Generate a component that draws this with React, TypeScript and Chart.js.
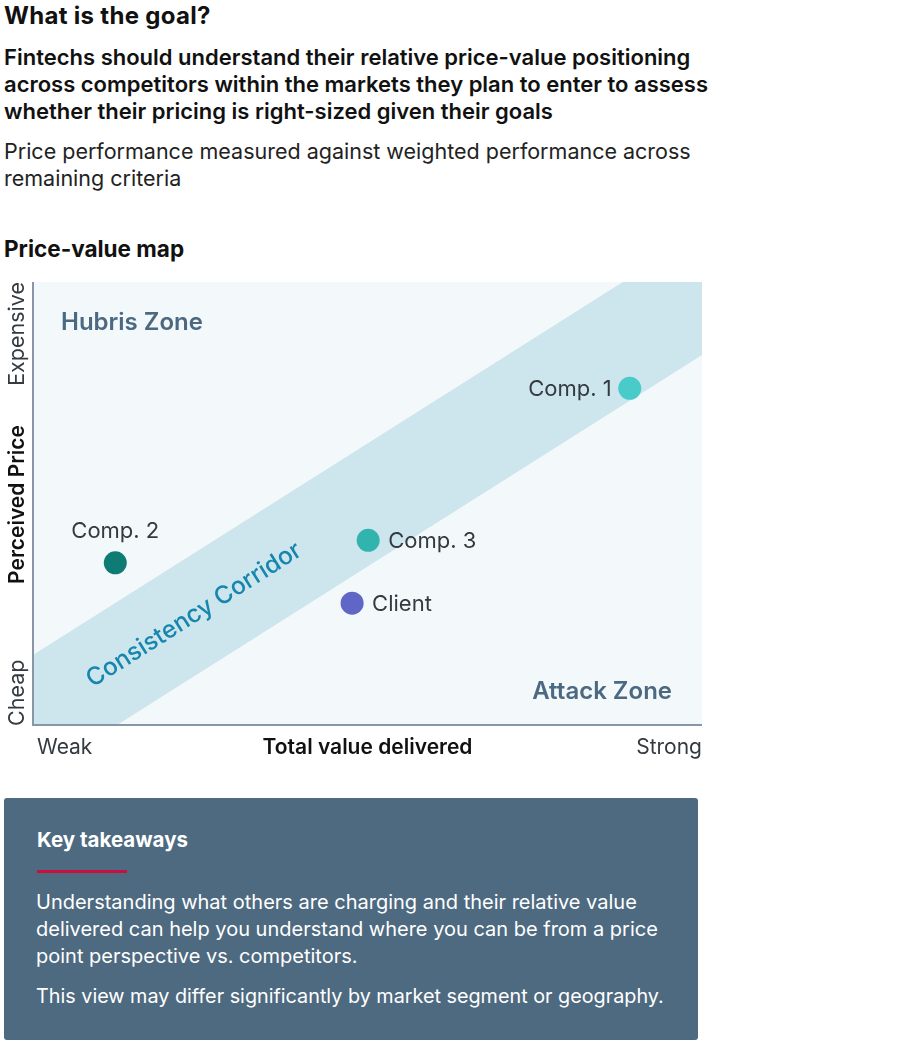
import React, { useEffect, useRef } from "react";
import { Chart, registerables } from "chart.js";

Chart.register(...registerables);

// ---- Data ----
const pointNames = ["Comp. 1", "Comp. 2", "Comp. 3", "Client"];
const valueDelivered = [8.92, 1.23, 5.01, 4.77];
const perceivedPrice = [7.6, 3.66, 4.17, 2.75];
const pointColors = ["#48cbc9", "#0e7b74", "#30b4ad", "#5f66c6"];
const labelSides = ["left", "above", "right", "right"];

const corridorX = [0, 10];
const corridorUpper = [1.58, 11.13];
const corridorLower = [-1.2, 8.35];

const xTickLabels = ["Weak", "Strong"];
const yTickLabels = ["Cheap", "Expensive"];
const xTitle = "Total value delivered";
const yTitle = "Perceived Price";
const zoneLabels = ["Hubris Zone", "Attack Zone"];
const corridorLabel = "Consistency Corridor";

const FONT = "Inter, 'Noto Sans', sans-serif";

const overlayPlugin = {
  id: "overlay",
  beforeDatasetsDraw(chart: any) {
    const { ctx, chartArea } = chart;
    ctx.save();
    ctx.fillStyle = "#f3f8fb";
    ctx.fillRect(chartArea.left, chartArea.top, chartArea.right - chartArea.left, chartArea.bottom - chartArea.top);
    ctx.restore();
  },
  afterDatasetsDraw(chart: any) {
    const { ctx, chartArea } = chart;
    const xs = chart.scales.x;
    const ys = chart.scales.y;
    ctx.save();
    // axes lines
    ctx.strokeStyle = "#8797a7";
    ctx.lineWidth = 2;
    ctx.beginPath();
    ctx.moveTo(chartArea.left, chartArea.top);
    ctx.lineTo(chartArea.left, chartArea.bottom);
    ctx.lineTo(chartArea.right, chartArea.bottom);
    ctx.stroke();

    // x tick labels & title
    ctx.fillStyle = "#333a40";
    ctx.font = `400 21px ${FONT}`;
    ctx.textBaseline = "alphabetic";
    const xb = chartArea.bottom + 29;
    ctx.textAlign = "left";
    ctx.fillText(xTickLabels[0], xs.getPixelForValue(0) + 4, xb);
    ctx.textAlign = "right";
    ctx.fillText(xTickLabels[1], xs.getPixelForValue(10), xb);
    ctx.fillStyle = "#111";
    ctx.font = `600 21px ${FONT}`;
    ctx.textAlign = "center";
    ctx.fillText(xTitle, (chartArea.left + chartArea.right) / 2, xb);

    // y tick labels & title (rotated)
    const yx = chartArea.left - 15;
    ctx.save();
    ctx.translate(yx, 0);
    ctx.rotate(-Math.PI / 2);
    ctx.fillStyle = "#333a40";
    ctx.font = `400 21.5px ${FONT}`;
    ctx.textBaseline = "middle";
    ctx.textAlign = "left";
    ctx.fillText(yTickLabels[0], -ys.getPixelForValue(0) - 1, 0);
    ctx.textAlign = "right";
    ctx.fillText(yTickLabels[1], -ys.getPixelForValue(10), 0);
    ctx.fillStyle = "#111";
    ctx.font = `600 21px ${FONT}`;
    ctx.textAlign = "center";
    ctx.fillText(yTitle, -((chartArea.top + chartArea.bottom) / 2 + 1), 0);
    ctx.restore();

    // zone labels
    ctx.fillStyle = "#4b6a82";
    ctx.font = `600 24px ${FONT}`;
    ctx.textBaseline = "alphabetic";
    ctx.textAlign = "left";
    ctx.fillText(zoneLabels[0], chartArea.left + 28, chartArea.top + 48);
    ctx.textAlign = "right";
    ctx.fillText(zoneLabels[1], chartArea.right - 30, chartArea.bottom - 26);

    // corridor label
    const midY = (xv: number) => {
      const t = (xv - corridorX[0]) / (corridorX[1] - corridorX[0]);
      const up = corridorUpper[0] + t * (corridorUpper[1] - corridorUpper[0]);
      const lo = corridorLower[0] + t * (corridorLower[1] - corridorLower[0]);
      return (up + lo) / 2;
    };
    const p0x = xs.getPixelForValue(0), p0y = ys.getPixelForValue(midY(0));
    const p1x = xs.getPixelForValue(10), p1y = ys.getPixelForValue(midY(10));
    const ang = Math.atan2(p1y - p0y, p1x - p0x);
    const sx = xs.getPixelForValue(0.83);
    const sy = ys.getPixelForValue(midY(0.83));
    ctx.save();
    ctx.translate(sx, sy);
    ctx.rotate(ang);
    ctx.fillStyle = "#1786ae";
    ctx.font = `500 24.5px ${FONT}`;
    ctx.textAlign = "left";
    ctx.textBaseline = "middle";
    ctx.fillText(corridorLabel, 0, 0);
    ctx.restore();

    // point labels
    ctx.fillStyle = "#333a40";
    ctx.font = `400 22px ${FONT}`;
    pointNames.forEach((name, i) => {
      const px = xs.getPixelForValue(valueDelivered[i]);
      const py = ys.getPixelForValue(perceivedPrice[i]);
      const side = labelSides[i];
      if (side === "left") {
        ctx.textAlign = "right";
        ctx.textBaseline = "middle";
        ctx.fillText(name, px - 18, py + 1);
      } else if (side === "right") {
        ctx.textAlign = "left";
        ctx.textBaseline = "middle";
        ctx.fillText(name, px + 20, py + 1);
      } else {
        ctx.textAlign = "center";
        ctx.textBaseline = "alphabetic";
        ctx.fillText(name, px, py - 25);
      }
    });
    ctx.restore();
  },
};

function PriceValueChart() {
  const ref = useRef<HTMLCanvasElement>(null);
  useEffect(() => {
    if (!ref.current) return;
    const chart = new Chart(ref.current, {
      type: "scatter",
      data: {
        datasets: [
          {
            type: "scatter",
            label: "Players",
            data: valueDelivered.map((v, i) => ({ x: v, y: perceivedPrice[i] })),
            backgroundColor: pointColors,
            borderWidth: 0,
            pointRadius: 11.5,
            pointHoverRadius: 11.5,
          } as any,
          {
            type: "line",
            label: "Corridor upper",
            data: corridorX.map((x, i) => ({ x, y: corridorUpper[i] })),
            borderWidth: 0,
            pointRadius: 0,
            fill: false,
            backgroundColor: "#cde5ec",
          } as any,
          {
            type: "line",
            label: "Corridor lower",
            data: corridorX.map((x, i) => ({ x, y: corridorLower[i] })),
            borderWidth: 0,
            pointRadius: 0,
            fill: "-1",
            backgroundColor: "#cde5ec",
          } as any,
        ],
      },
      options: {
        responsive: false,
        animation: false,
        devicePixelRatio: 1,
        layout: { padding: { left: 33, right: 18, top: 12, bottom: 45 } },
        scales: {
          x: { type: "linear", min: 0, max: 10, display: false },
          y: { type: "linear", min: 0, max: 10, display: false },
        },
        plugins: { legend: { display: false }, tooltip: { enabled: false } },
      },
      plugins: [overlayPlugin],
    });
    return () => chart.destroy();
  }, []);
  return <canvas ref={ref} width={720} height={500} style={{ position: "absolute", left: 0, top: 270, width: 720, height: 500 }} />;
}

const heading = "What is the goal?";
const leadLines = [
  "Fintechs should understand their relative price-value positioning",
  "across competitors within the markets they plan to enter to assess",
  "whether their pricing is right-sized given their goals",
];
const subLines = ["Price performance measured against weighted performance across", "remaining criteria"];
const chartTitle = "Price-value map";
const takeawayTitle = "Key takeaways";
const takeawayLines = [
  "Understanding what others are charging and their relative value",
  "delivered can help you understand where you can be from a price",
  "point perspective vs. competitors.",
];
const takeawayNote = "This view may differ significantly by market segment or geography.";

export default function App() {
  const base: React.CSSProperties = { position: "absolute", whiteSpace: "nowrap", fontFamily: FONT, margin: 0 };
  return (
    <div style={{ position: "absolute", left: 0, top: 0, width: 900, height: 1044, background: "#fff", fontFamily: FONT, color: "#111" }}>
      <div style={{ ...base, left: 4, top: 2, fontSize: 24, fontWeight: 700, lineHeight: "27px", letterSpacing: 0.3 }}>{heading}</div>
      <div style={{ ...base, left: 4, top: 44, fontSize: 22, fontWeight: 600, lineHeight: "27px" }}>
        {leadLines.map((l, i) => (
          <div key={i}>{l}</div>
        ))}
      </div>
      <div style={{ ...base, left: 4, top: 138, fontSize: 21.5, fontWeight: 400, lineHeight: "27px", color: "#222" }}>
        {subLines.map((l, i) => (
          <div key={i}>{l}</div>
        ))}
      </div>
      <div style={{ ...base, left: 4, top: 235, fontSize: 22.5, fontWeight: 700, lineHeight: "27px" }}>{chartTitle}</div>
      <PriceValueChart />
      <div style={{ position: "absolute", left: 4, top: 798, width: 694, height: 242, background: "#4e6a80", borderRadius: 3 }}>
        <div style={{ ...base, left: 33, top: 28, fontSize: 20.5, fontWeight: 700, lineHeight: "27px", color: "#fff" }}>{takeawayTitle}</div>
        <div style={{ position: "absolute", left: 33, top: 72, width: 90, height: 3, background: "#c8103e" }} />
        <div style={{ ...base, left: 32, top: 91, fontSize: 20, fontWeight: 400, lineHeight: "27px", color: "#fff" }}>
          {takeawayLines.map((l, i) => (
            <div key={i}>{l}</div>
          ))}
        </div>
        <div style={{ ...base, left: 32, top: 185, fontSize: 19.8, fontWeight: 400, lineHeight: "27px", color: "#fff" }}>{takeawayNote}</div>
      </div>
    </div>
  );
}
